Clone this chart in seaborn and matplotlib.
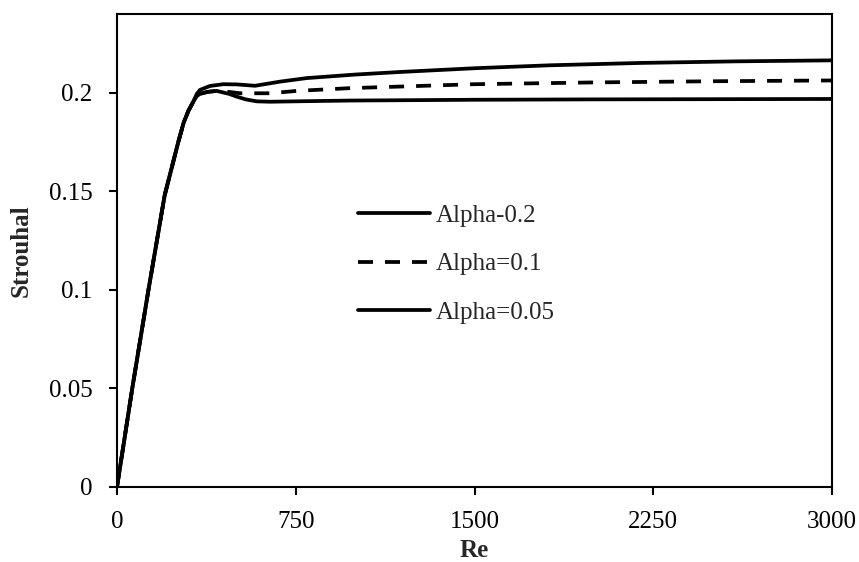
import matplotlib
matplotlib.use("Agg")
import matplotlib.pyplot as plt
import seaborn as sns
import pandas as pd

# Shared rising branch (Re, St) before the curves separate
re_rise = [0, 64, 132, 200, 257, 280, 300, 320]
st_rise = [0.0, 0.05, 0.10, 0.148, 0.175, 0.185, 0.191, 0.1955]

# Alpha = 0.2
re_a02 = [335, 348, 390, 446, 502, 579, 684, 796, 1000, 1188, 1500, 1817, 2200, 2600, 3000]
st_a02 = [0.1995, 0.2015, 0.2035, 0.2044, 0.2043, 0.2036, 0.2057, 0.2075, 0.2093, 0.2106,
          0.2125, 0.2140, 0.2152, 0.2160, 0.2165]

# Alpha = 0.1
re_a01 = [335, 348, 380, 418, 470, 516, 642, 754, 978, 1500, 2000, 2500, 3000]
st_a01 = [0.1984, 0.1995, 0.2005, 0.2010, 0.2005, 0.1998, 0.1998, 0.2010, 0.2024, 0.2044,
          0.2053, 0.2059, 0.2063]

# Alpha = 0.05
re_a005 = [335, 348, 380, 418, 470, 502, 540, 586, 642, 800, 978, 1500, 2000, 3000]
st_a005 = [0.1984, 0.1995, 0.2005, 0.2010, 0.1995, 0.1981, 0.1967, 0.1957, 0.1955, 0.1958,
           0.1961, 0.1965, 0.1967, 0.1969]

labels = ["Alpha-0.2", "Alpha=0.1", "Alpha=0.05"]
x_ticks = [0, 750, 1500, 2250, 3000]
y_ticks = [0, 0.05, 0.1, 0.15, 0.2]
y_tick_labels = ["0", "0.05", "0.1", "0.15", "0.2"]

frames = []
for lab, xs, ys in zip(labels, [re_a02, re_a01, re_a005], [st_a02, st_a01, st_a005]):
    frames.append(pd.DataFrame({"Re": re_rise + xs, "Strouhal": st_rise + ys, "series": lab}))
df = pd.concat(frames, ignore_index=True)

sns.set_style("ticks")
plt.rcParams["font.family"] = ["Liberation Serif", "DejaVu Serif"]
plt.rcParams["lines.solid_joinstyle"] = "round"
plt.rcParams["lines.dash_capstyle"] = "butt"

fig = plt.figure(figsize=(8.59, 5.62), dpi=100)
ax = fig.add_axes([0.1362, 0.1335, 0.8324, 0.8415])

lw = 2.7
dash = (4.0, 3.2)
sns.lineplot(data=df, x="Re", y="Strouhal", hue="series", style="series",
             hue_order=labels, style_order=labels,
             palette={l: "black" for l in labels},
             dashes={labels[0]: "", labels[1]: dash, labels[2]: ""},
             linewidth=lw, estimator=None, sort=False, ax=ax, legend=False)

ax.set_xlim(0, 3000)
ax.set_ylim(0, 0.24)
ax.set_xticks(x_ticks)
ax.set_xticklabels([str(t) for t in x_ticks])
ax.set_yticks(y_ticks)
ax.set_yticklabels(y_tick_labels)
ax.tick_params(axis="both", direction="out", length=5.5, width=1.5, labelsize=18,
               colors="black")
ax.tick_params(axis="x", pad=12)
ax.tick_params(axis="y", pad=12)
for s in ax.spines.values():
    s.set_linewidth(1.5)
    s.set_color("black")
    s.set_visible(True)

ax.set_xlabel("Re", fontsize=18, fontweight="bold", labelpad=4)
ax.set_ylabel("Strouhal", fontsize=18, fontweight="bold", labelpad=12)

handles = [
    plt.Line2D([], [], color="black", lw=lw),
    plt.Line2D([], [], color="black", lw=lw, dashes=dash),
    plt.Line2D([], [], color="black", lw=lw),
]
ax.legend(handles, labels, loc="upper left", bbox_to_anchor=(0.323, 0.618),
          frameon=False, fontsize=18, handlelength=2.9, handletextpad=0.2,
          labelspacing=1.03, borderaxespad=0)

fig.savefig("out.png", dpi=100, facecolor="white")
